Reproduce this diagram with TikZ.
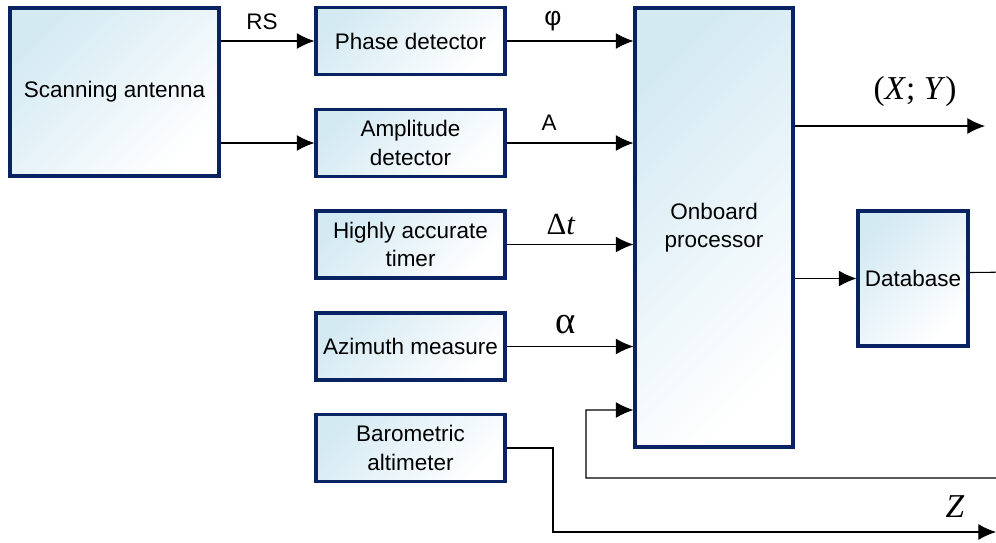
\documentclass[tikz,border=0pt]{standalone}
\usepackage{fontspec}
\setmainfont{Liberation Sans}
\newfontfamily\serifm{Liberation Serif}
\usetikzlibrary{positioning,arrows.meta,calc}
\definecolor{boxedge}{RGB}{8,34,98}
\definecolor{boxfill}{RGB}{212,234,243}
\tikzset{
  blk/.style={draw=boxedge,line width=1.8pt,top color=boxfill,bottom color=white,
    shading angle=45,align=center,inner sep=2pt},
  det/.style={blk,minimum width=3.78cm,minimum height=1.34cm},
  sig/.style={->,line width=0.6pt},
}
\begin{document}
\begin{tikzpicture}[>={Latex[length=10pt,width=9pt]},x=0.02cm,y=-0.02cm,
  font=\fontsize{12.8}{16}\selectfont]
  \useasboundingbox (0,0) rectangle (996,542);
  % blocks
  \node[blk,minimum width=4.18cm,minimum height=3.36cm] (ant) at (114.5,92) {Scanning antenna};
  \node[det] (ph)   at (410.5,41)    {Phase detector};
  \node[det] (amp)  at (410.5,143)   {Amplitude\\detector};
  \node[det] (tim)  at (410.5,244.5) {Highly accurate\\timer};
  \node[det] (azi)  at (410.5,346.5) {Azimuth measure};
  \node[det] (baro) at (410.5,448)   {Barometric\\altimeter};
  \node[blk,minimum width=3.16cm,minimum height=8.78cm] (proc) at (714,227.5) {Onboard\\processor};
  \node[blk,minimum width=2.2cm,minimum height=2.7cm] (db) at (913,278.5) {Database};
  % free ends
  \coordinate (xyout) at (985,126);
  \coordinate (zout) at (996,532);
  \coordinate (fbin) at (proc.west |- 0,410);
  % signals
  \draw[sig] (ant.east |- ph) -- (ph.west);
  \draw[sig] (ant.east |- amp) -- (amp.west);
  \draw[sig] (ph.east) -- (ph.east -| proc.west);
  \draw[sig] (amp.east) -- (amp.east -| proc.west);
  \draw[sig] (tim.east) -- (tim.east -| proc.west);
  \draw[sig] (azi.east) -- (azi.east -| proc.west);
  \draw[sig] (proc.east |- xyout) -- (xyout);
  \draw[sig] (proc.east |- db) -- (db.west);
  \draw[sig] ([yshift=3.4pt]db.east) -- (1012,272) |- (586,478) |- (fbin);
  \draw[sig] (baro.east) -- (553,448) |- (zout);
  % labels
  \node (lrs) at (262,22) {RS};
  \node[font=\fontsize{15}{18}\selectfont] (lphi) at (553,21) {φ};
  \node (la) at (549,123) {A};
  \node[font=\serifm\fontsize{17.5}{20}\selectfont] (ldt) at (561,224) {Δ\textit{t}};
  \node[font=\serifm\fontsize{22}{24}\selectfont] (lal) at (566,325) {α};
  \node[font=\serifm\fontsize{19}{22}\selectfont] (lxy) at (915,91) {(\textit{X}; \textit{Y})};
  \node[font=\serifm\fontsize{19}{22}\selectfont] (lz) at (955,507) {\textit{Z}};
\end{tikzpicture}
\end{document}
